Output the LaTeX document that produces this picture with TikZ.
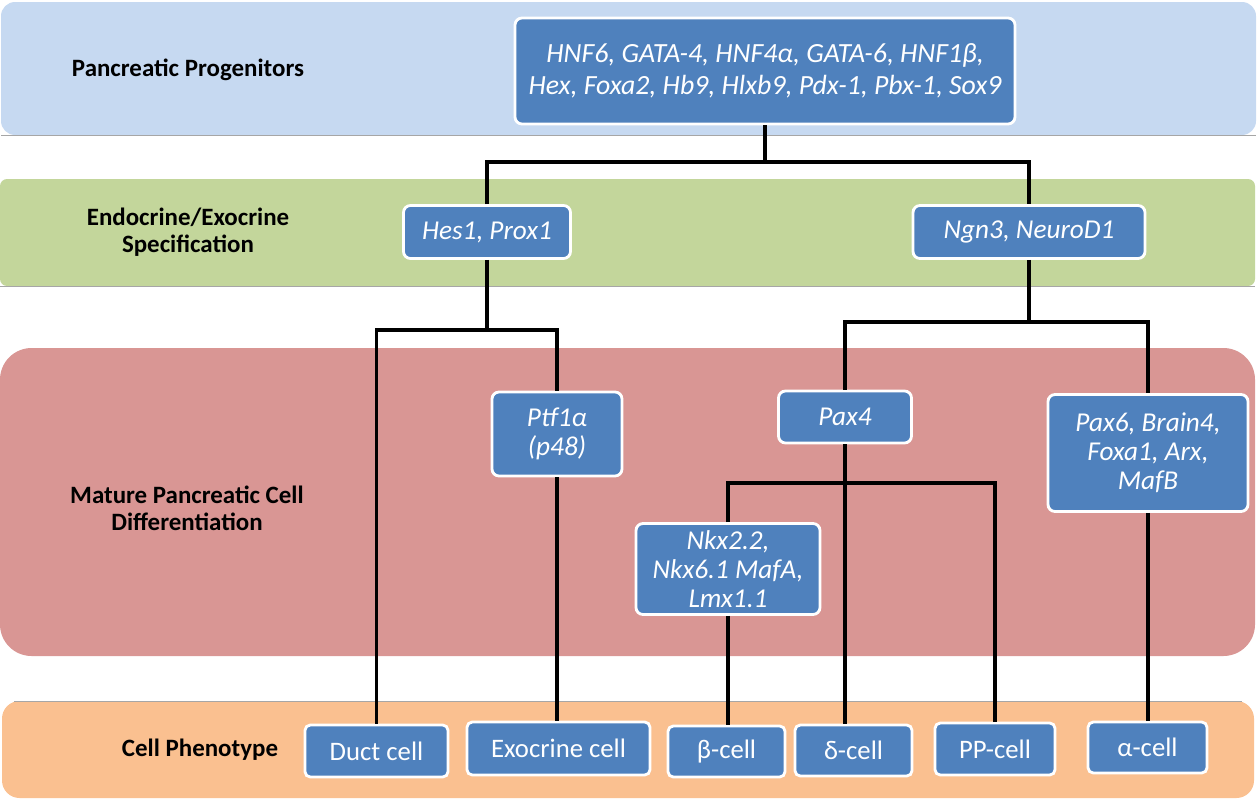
\documentclass[tikz,border=0pt]{standalone}
\usepackage{fontspec}
\setmainfont{Carlito}
\newdimen\pxu \pxu=0.02cm
\definecolor{bandblue}{HTML}{C6D9F1}
\definecolor{bandgreen}{HTML}{C3D69B}
\definecolor{bandred}{HTML}{D99694}
\definecolor{bandorange}{HTML}{FAC090}
\definecolor{boxblue}{HTML}{4F81BD}
\definecolor{bandedge}{HTML}{A6A6A6}
\begin{document}
\begin{tikzpicture}[x=0.02cm,y=-0.02cm,
  gene/.style={draw=white, line width=1.6pt, fill=boxblue, rounded corners=4pt,
    text=white, align=center, inner sep=0pt,
    font=\itshape\fontsize{15.5}{16.5}\selectfont},
  cellbox/.style={draw=white, line width=1.6pt, fill=boxblue, rounded corners=3pt,
    text=white, align=center, inner sep=0pt,
    font=\fontsize{15.2}{17}\selectfont},
  stage/.style={align=center, font=\bfseries\fontsize{14.2}{15.5}\selectfont},
  link/.style={line width=1.9pt, black}
]
\useasboundingbox (0,0) rectangle (1257,798);
% bands
\fill[bandblue, rounded corners=8pt] (1,2) rectangle (1256,135);
\draw[bandedge, line width=0.5pt] (1,135) -- (1256,135);
\fill[bandgreen, rounded corners=4pt] (0,179) rectangle (1255,286);
\draw[bandedge, line width=0.5pt] (0,286) -- (1255,286);
\fill[bandred, rounded corners=18pt] (0,348) rectangle (1255,656);
\fill[bandorange, rounded corners=10pt] (2,701) rectangle (1254,798);
\draw[bandedge, line width=0.4pt] (14,701) -- (1242,701);

% stage labels
\node[stage] (s1) at (188,70) {Pancreatic Progenitors};
\node[stage] (s2) at (188,232) {Endocrine/Exocrine\\Specification};
\node[stage] (s3) at (187,508) {Mature Pancreatic Cell\\Differentiation};
\node[stage] (s4) at (200,750) {Cell Phenotype};

% gene boxes
\node[gene, minimum width=500\pxu, minimum height=106\pxu,
  font=\itshape\fontsize{15.8}{18.5}\selectfont] (top) at (765,71)
  {HNF6, GATA-4, HNF4α, GATA-6, HNF1β,\\Hex, Foxa2, Hb9, Hlxb9, Pdx-1, Pbx-1, Sox9};
\node[gene, minimum width=167\pxu, minimum height=53\pxu] (hes) at (487,232) {Hes1, Prox1};
\node[gene, minimum width=232\pxu, minimum height=53\pxu] (ngn) at (1029,232) {Ngn3, NeuroD1};
\node[gene, minimum width=130\pxu, minimum height=84\pxu] (ptf) at (557,434) {Ptf1α\\(p48)};
\node[gene, minimum width=133\pxu, minimum height=52\pxu] (pax4) at (845,417) {Pax4};
\node[gene, minimum width=200\pxu, minimum height=117\pxu] (pax6) at (1148,453) {Pax6, Brain4,\\Foxa1, Arx,\\MafB};
\node[gene, minimum width=184\pxu, minimum height=91\pxu] (nkx) at (728,569) {Nkx2.2,\\Nkx6.1 MafA,\\Lmx1.1};

% cell phenotype boxes
\node[cellbox, minimum width=143\pxu, minimum height=52\pxu] (duct) at (376.5,751) {Duct cell};
\node[cellbox, minimum width=183\pxu, minimum height=53\pxu] (exo) at (558.5,748.5) {Exocrine cell};
\node[cellbox, minimum width=117\pxu, minimum height=51\pxu] (beta) at (726.5,751.5) {β-cell};
\node[cellbox, minimum width=117\pxu, minimum height=51\pxu] (delta) at (853.5,750.5) {δ-cell};
\node[cellbox, minimum width=120\pxu, minimum height=52\pxu] (pp) at (995,749) {PP-cell};
\node[cellbox, minimum width=119\pxu, minimum height=51\pxu] (alpha) at (1147.5,747.5) {α-cell};

% junctions
\coordinate (j1) at (765,162);
\coordinate (j2) at (487,330);
\coordinate (j3) at (1029,322);
\coordinate (j4) at (845,483);

% connectors
\draw[link] (top.south) -- (j1);
\draw[link] (hes.north) |- (ngn.north |- j1) -- (ngn.north);
\draw[link] (hes.south) -- (j2);
\draw[link] (duct.north) |- (ptf.north |- j2) -- (ptf.north);
\draw[link] (ngn.south) -- (j3);
\draw[link] (pax4.north) |- (pax6.north |- j3) -- (pax6.north);
\draw[link] (pax4.south) -- (pax4.south |- delta.north);
\draw[link] (nkx.north) |- (pp.north |- j4) -- (pp.north);
\draw[link] (nkx.south) -- (nkx.south |- beta.north);
\draw[link] (ptf.south) -- (ptf.south |- exo.north);
\draw[link] (pax6.south) -- (pax6.south |- alpha.north);
\end{tikzpicture}
\end{document}
